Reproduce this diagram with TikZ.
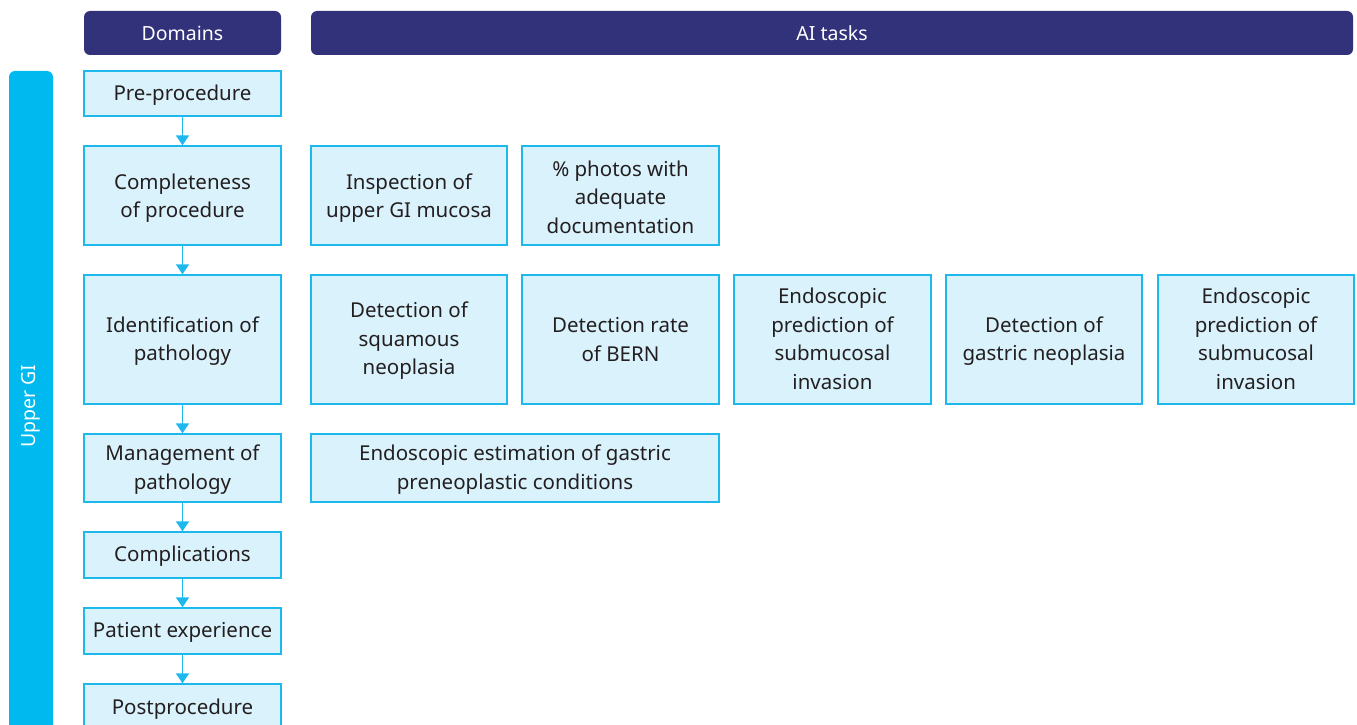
\documentclass[tikz,border=0pt]{standalone}
\usepackage{fontspec}
\setmainfont{Noto Sans}
\usetikzlibrary{arrows.meta}
\definecolor{navy}{HTML}{31327A}
\definecolor{cyanbar}{HTML}{00B9EF}
\definecolor{boxfill}{HTML}{DAF2FC}
\definecolor{boxline}{HTML}{1DB8EC}
\definecolor{txt}{HTML}{231F20}
\tikzset{
  hdr/.style={fill=navy, rounded corners=6pt, text=white, inner sep=0pt,
    font=\fontsize{19.5}{22}\selectfont},
  bx/.style={draw=boxline, fill=boxfill, line width=1.3pt, inner sep=0pt},
  bt/.style={align=center, text=txt, inner sep=0pt, yshift=-1.5pt,
    font=\fontsize{20.5}{28.5}\selectfont},
  flow/.style={draw=boxline, line width=1.5pt, -{Triangle[length=10pt,width=13pt]}}
}
\begin{document}
\begin{tikzpicture}[x=1pt,y=-1pt]
\useasboundingbox (0,0) rectangle (1357,725);
\begin{scope}
\clip (0,0) rectangle (1357,725);
% headers
\node[hdr, minimum width=197, minimum height=44] (hd) at (182.5,33) {Domains};
\node[hdr, minimum width=1042, minimum height=44] (ha) at (832,33) {AI tasks};
% side bar
\fill[cyanbar, rounded corners=6pt] (9,71) rectangle (53,760);
\node[rotate=90, text=white, font=\fontsize{19.5}{22}\selectfont] (ugi) at (31,406) {Upper GI};
% domain boxes
\node[bx, minimum width=197, minimum height=45, label={[bt]center:Pre-procedure}] (d1) at (182.5,93.5) {};
\node[bx, minimum width=197, minimum height=99, label={[bt,yshift=-1pt]center:{Completeness\\of procedure}}] (d2) at (182.5,195.5) {};
\node[bx, minimum width=197, minimum height=129, label={[bt]center:{Identification of\\pathology}}] (d3) at (182.5,339.5) {};
\node[bx, minimum width=197, minimum height=68, label={[bt]center:{Management of\\pathology}}] (d4) at (182.5,468) {};
\node[bx, minimum width=197, minimum height=46, label={[bt]center:Complications}] (d5) at (182.5,555) {};
\node[bx, minimum width=197, minimum height=46, label={[bt]center:Patient experience}] (d6) at (182.5,631) {};
\node[bx, minimum width=197, minimum height=50, label={[bt,yshift=1.5pt]center:Postprocedure}] (d7) at (182.5,709) {};
\end{scope}
\foreach \a/\b in {d1/d2,d2/d3,d3/d4,d4/d5,d5/d6,d6/d7}
  \draw[flow] (\a.south) -- (\b.north);
% task boxes row 2
\node[bx, minimum width=196, minimum height=99, label={[bt,yshift=-1pt]center:{Inspection of\\upper GI mucosa}}] (t21) at (409,195.5) {};
\node[bx, minimum width=197, minimum height=99, label={[bt]center:{\% photos with\\adequate\\documentation}}] (t22) at (620.5,195.5) {};
% row 3
\node[bx, minimum width=196, minimum height=129, label={[bt]center:{Detection of\\squamous\\neoplasia}}] (t31) at (409,339.5) {};
\node[bx, minimum width=197, minimum height=129, label={[bt,yshift=1.5pt]center:{Detection rate\\of BERN}}] (t32) at (620.5,339.5) {};
\node[bx, minimum width=197, minimum height=129, label={[bt,yshift=2pt]center:{Endoscopic\\prediction of\\submucosal\\invasion}}] (t33) at (832.5,339.5) {};
\node[bx, minimum width=196, minimum height=129, label={[bt]center:{Detection of\\gastric neoplasia}}] (t34) at (1044,339.5) {};
\node[bx, minimum width=196, minimum height=129, label={[bt,yshift=2pt]center:{Endoscopic\\prediction of\\submucosal\\invasion}}] (t35) at (1256,339.5) {};
% row 4
\node[bx, minimum width=408, minimum height=68, label={[bt]center:{Endoscopic estimation of gastric\\preneoplastic conditions}}] (t41) at (515,468) {};
\end{tikzpicture}
\end{document}
